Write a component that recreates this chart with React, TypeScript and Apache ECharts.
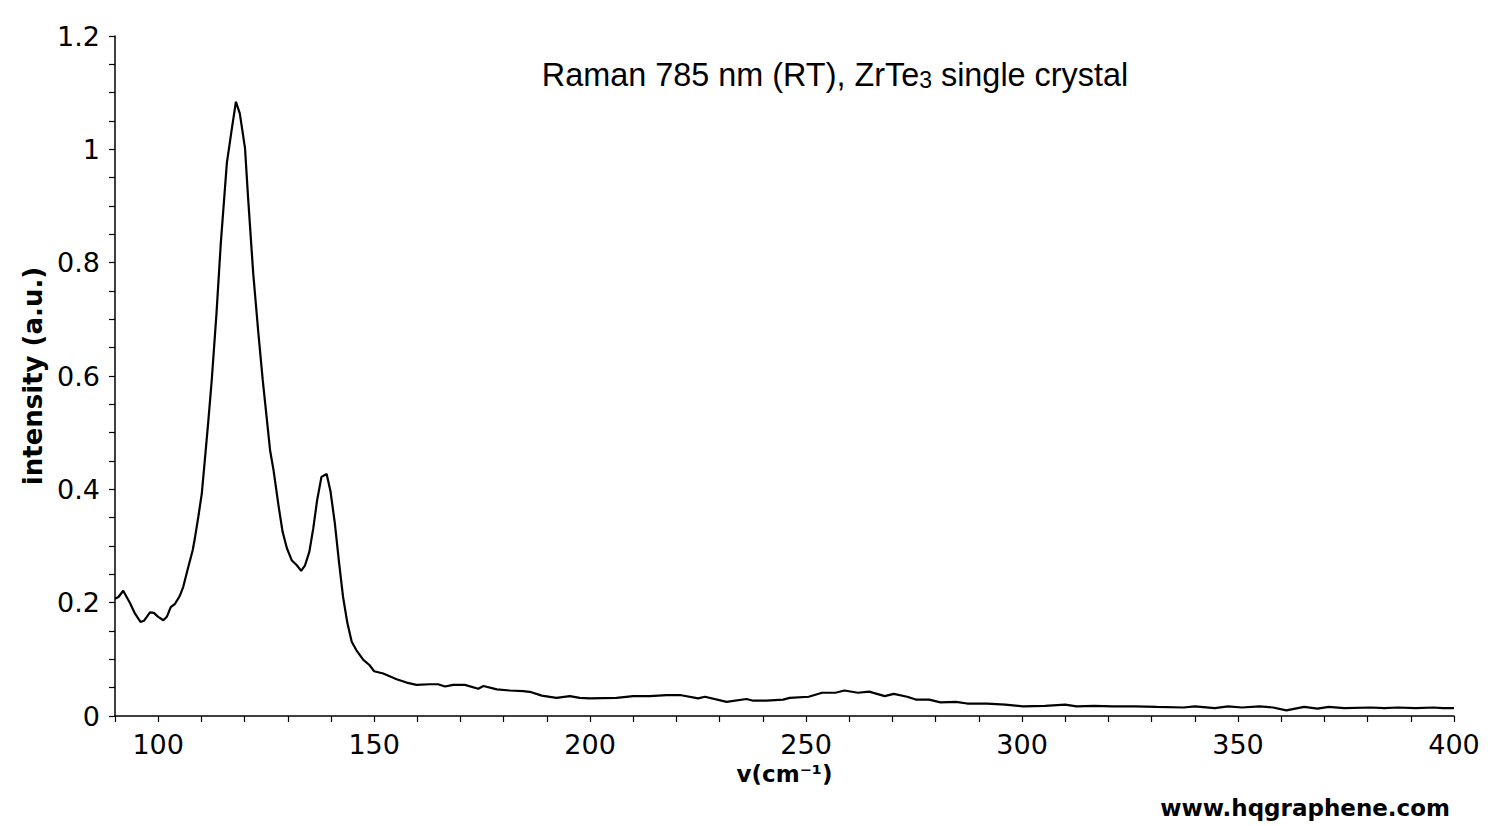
import React, { useEffect, useRef } from "react";
import * as echarts from "echarts";

// Raman shift (cm^-1)
const wavenumbers: number[] = [
  90, 90.8, 91.9, 93.5, 94.6, 95.9, 96.7, 98.1, 99.0, 100.0, 101.2, 102.0, 102.9, 103.9,
  105.0, 105.8, 106.7, 108.0, 108.5, 109.3, 110.1, 110.8, 111.6, 112.4, 113.5, 114.5, 115.9,
  117.0, 118.0, 118.9, 120.1, 120.8, 122.0, 123.2, 124.2, 125.9, 126.7, 127.9, 128.8, 129.8,
  130.9, 132.1, 133.1, 134.0, 135.0, 135.9, 136.8, 137.8, 139.0, 139.9, 140.9, 141.9, 142.8,
  143.8, 144.8, 145.9, 147.5, 148.9, 150.0, 152.1, 155.2, 157.5, 159.8, 162.9, 164.8, 166.4,
  168.3, 171.0, 174.1, 175.3, 178.4, 181.4, 184.5, 186.4, 188.8, 192.2, 195.3, 197.6, 200.0,
  206.1, 210.0, 213.8, 217.7, 220.8, 225.0, 226.6, 231.6, 236.2, 237.8, 240.8, 244.7, 246.2,
  250.6, 253.7, 256.8, 258.9, 262.0, 264.6, 268.2, 270.3, 273.4, 275.4, 278.5, 281.1, 284.7,
  287.3, 291.9, 296.1, 300.2, 305.3, 310.0, 312.6, 316.7, 320.9, 326.0, 331.2, 337.4, 340.0,
  344.6, 347.7, 350.9, 355.0, 358.1, 361.2, 365.3, 368.4, 371.0, 374.6, 380.8, 383.9, 387.0,
  391.1, 395.3, 397.4, 400
];

// intensity (a.u.)
const intensity: number[] = [
  0.207, 0.21, 0.221, 0.199, 0.181, 0.166, 0.168, 0.183, 0.182, 0.175, 0.169, 0.175, 0.192, 0.198,
  0.212, 0.228, 0.255, 0.293, 0.314, 0.352, 0.393, 0.452, 0.52, 0.593, 0.711, 0.835, 0.976,
  1.034, 1.084, 1.063, 1.002, 0.916, 0.781, 0.675, 0.593, 0.469, 0.434, 0.369, 0.325, 0.296,
  0.275, 0.266, 0.256, 0.266, 0.29, 0.331, 0.381, 0.422, 0.427, 0.396, 0.34, 0.269, 0.21,
  0.164, 0.131, 0.116, 0.099, 0.09, 0.079, 0.075, 0.065, 0.059, 0.055, 0.056, 0.056, 0.052,
  0.055, 0.055, 0.048, 0.053, 0.047, 0.045, 0.044, 0.042, 0.036, 0.032, 0.035, 0.032, 0.031,
  0.032, 0.035, 0.035, 0.037, 0.037, 0.031, 0.034, 0.025, 0.03, 0.027, 0.027, 0.029, 0.032,
  0.034, 0.041, 0.041, 0.045, 0.041, 0.043, 0.035, 0.039, 0.034, 0.029, 0.029, 0.024, 0.025,
  0.022, 0.022, 0.02, 0.017, 0.018, 0.02, 0.017, 0.018, 0.017, 0.017, 0.016, 0.015, 0.017,
  0.014, 0.017, 0.015, 0.017, 0.015, 0.01, 0.016, 0.013, 0.016, 0.014, 0.015, 0.014, 0.015,
  0.014, 0.015, 0.014, 0.014
];

const xLabelValues: number[] = [100, 150, 200, 250, 300, 350, 400];
const yLabelValues: string[] = ["0", "0.2", "0.4", "0.6", "0.8", "1", "1.2"];

const titleMain = "Raman 785 nm (RT), ZrTe";
const titleSub = "3";
const titleTail = " single crystal";
const xName = "v(cm⁻¹)";
const yName = "intensity (a.u.)";
const watermark = "www.hqgraphene.com";

export default function App() {
  const ref = useRef<HTMLDivElement>(null);

  useEffect(() => {
    if (!ref.current) return;
    const chart = echarts.init(ref.current, null, { renderer: "svg" });
    const data = wavenumbers.map((v, i) => [v, intensity[i]]);
    const tickFont = "DejaVu Sans";

    chart.setOption({
      animation: false,
      backgroundColor: "#ffffff",
      grid: { left: 115, right: 56, top: 36, bottom: 110, containLabel: false },
      xAxis: {
        type: "value",
        min: 90,
        max: 400,
        interval: 10,
        name: xName,
        nameLocation: "middle",
        nameGap: 46,
        nameTextStyle: {
          fontFamily: tickFont,
          fontWeight: "bold",
          fontSize: 23,
          color: "#000",
        },
        axisLine: { show: true, onZero: false, lineStyle: { color: "#000", width: 1.5 } },
        axisTick: { show: true, inside: false, length: 6, lineStyle: { color: "#000", width: 1.2 } },
        axisLabel: {
          margin: 15,
          fontFamily: tickFont,
          fontSize: 27,
          color: "#000",
          formatter: (v: number) => (xLabelValues.includes(Math.round(v)) ? String(Math.round(v)) : ""),
        },
        splitLine: { show: false },
      },
      yAxis: {
        type: "value",
        min: 0,
        max: 1.2,
        interval: 0.05,
        name: yName,
        nameLocation: "middle",
        nameGap: 58,
        nameTextStyle: {
          fontFamily: tickFont,
          fontWeight: "bold",
          fontSize: 26,
          color: "#000",
        },
        axisLine: { show: true, lineStyle: { color: "#000", width: 1.5 } },
        axisTick: { show: true, inside: false, length: 6, lineStyle: { color: "#000", width: 1.2 } },
        axisLabel: {
          margin: 15,
          fontFamily: tickFont,
          fontSize: 27,
          color: "#000",
          formatter: (v: number) => {
            const s = String(Number(v.toFixed(2)));
            return yLabelValues.includes(s) ? s : "";
          },
        },
        splitLine: { show: false },
      },
      series: [
        {
          type: "line",
          data,
          showSymbol: false,
          symbol: "none",
          lineStyle: { color: "#000", width: 2.2 },
          itemStyle: { color: "#000" },
        },
      ],
      graphic: [
        {
          type: "text",
          x: 835,
          y: 75,
          style: {
            text: `{a|${titleMain}}{s|${titleSub}}{a|${titleTail}}`,
            align: "center",
            verticalAlign: "middle",
            rich: {
              a: { fontFamily: "Liberation Sans", fontSize: 32.4, fill: "#000", lineHeight: 32 },
              s: {
                fontFamily: "Liberation Sans",
                fontSize: 23,
                fill: "#000",
                lineHeight: 16,
                verticalAlign: "bottom",
              },
            },
          },
        },
        {
          type: "text",
          x: 1450,
          y: 808,
          style: {
            text: watermark,
            align: "right",
            verticalAlign: "middle",
            fontFamily: tickFont,
            fontWeight: "bold",
            fontSize: 23,
            fill: "#000",
          },
        },
      ],
    });

    return () => chart.dispose();
  }, []);

  return (
    <div
      ref={ref}
      style={{ position: "absolute", left: 0, top: 0, width: "1510px", height: "826px", background: "#fff" }}
    />
  );
}
